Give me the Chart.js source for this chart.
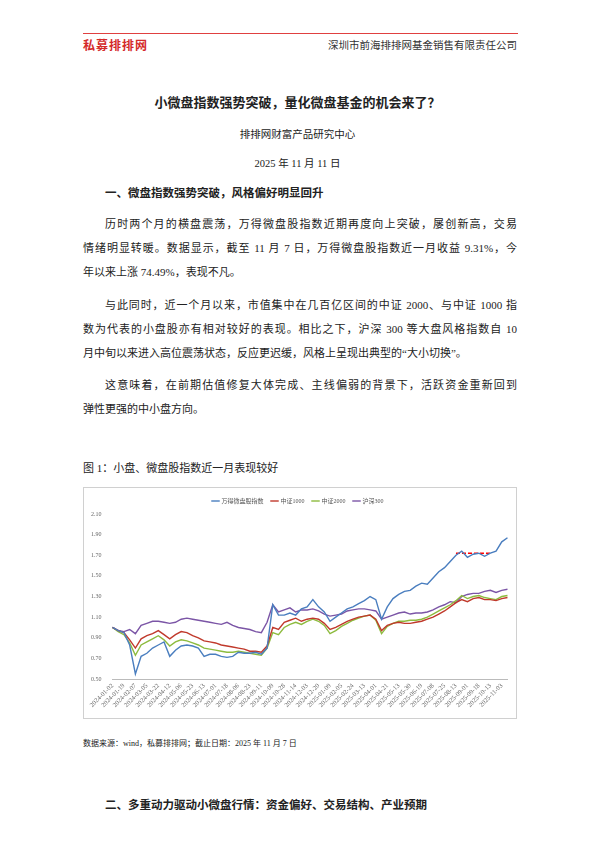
<!DOCTYPE html>
<html lang="zh">
<head>
<meta charset="UTF-8">
<title>小微盘指数强势突破</title>
<script src="https://cdn.jsdelivr.net/npm/chart.js"></script>
<style>
    body { margin: 0; width: 595px; height: 842px; background: #fff; position: relative;
           font-family: "Liberation Serif", "Noto Sans CJK SC", serif; color: #222; }
    .abs { position: absolute; white-space: nowrap; }
    .hr { position: absolute; left: 83px; top: 33px; width: 435px; height: 1px; background: #e04040; }
    .logo { left: 83px; top: 36px; font-size: 12px; font-weight: bold; color: #d42a2a; font-family: "Noto Sans CJK SC"; letter-spacing: 1px; }
    .company { right: 78px; top: 37px; font-size: 10.5px; font-family: "Noto Sans CJK SC"; color: #333; }
    .title { left: 0; width: 595px; text-align: center; top: 92px; font-size: 13px; font-weight: bold; }
    .center { left: 0; width: 595px; text-align: center; font-size: 10.5px; }
    .h { left: 105px; font-size: 11.5px; font-weight: bold; }
    .line { position: absolute; left: 83px; width: 434px; font-size: 11px; text-align: justify; text-align-last: justify; white-space: nowrap; }
    .ind { left: 105px; width: 412px; }
    .last { text-align-last: left; }
    #box { position: absolute; left: 83px; top: 487px; width: 434px; height: 232px; border: 1px solid #d0d0d0; box-sizing: border-box; }
</style>
</head>
<body>
<div class="hr"></div>
<div class="abs logo">私募排排网</div>
<div class="abs company">深圳市前海排排网基金销售有限责任公司</div>
<div class="abs title">小微盘指数强势突破，量化微盘基金的机会来了？</div>
<div class="abs center" style="top:126px">排排网财富产品研究中心</div>
<div class="abs center" style="top:155px">2025 年 11 月 11 日</div>
<div class="abs h" style="top:184px">一、微盘指数强势突破，风格偏好明显回升</div>

<div class="line ind" style="top:215px">历时两个月的横盘震荡，万得微盘股指数近期再度向上突破，屡创新高，交易</div>
<div class="line" style="top:239px">情绪明显转暖。数据显示，截至 11 月 7 日，万得微盘股指数近一月收益 9.31%，今</div>
<div class="line last" style="top:263px">年以来上涨 74.49%，表现不凡。</div>
<div class="line ind" style="top:296px">与此同时，近一个月以来，市值集中在几百亿区间的中证 2000、与中证 1000 指</div>
<div class="line" style="top:320px">数为代表的小盘股亦有相对较好的表现。相比之下，沪深 300 等大盘风格指数自 10</div>
<div class="line last" style="top:344px">月中旬以来进入高位震荡状态，反应更迟缓，风格上呈现出典型的“大小切换”。</div>
<div class="line ind" style="top:376px">这意味着，在前期估值修复大体完成、主线偏弱的背景下，活跃资金重新回到</div>
<div class="line last" style="top:400px">弹性更强的中小盘方向。</div>

<div class="abs" style="left:83px; top:459px; font-size:11px">图 1：小盘、微盘股指数近一月表现较好</div>
<div id="box"><canvas id="c"></canvas></div>
<div class="abs" style="left:83px; top:737px; font-size:8px">数据来源：wind，私募排排网；截止日期：2025 年 11 月 7 日</div>
<div class="abs h" style="top:796px">二、多重动力驱动小微盘行情：资金偏好、交易结构、产业预期</div>

<script>
// tick dates (every other category carries a label)
var tickDates = ['2024-01-02','2024-01-19','2024-02-07','2024-03-05','2024-03-22','2024-04-12','2024-05-06',
    '2024-05-23','2024-06-13','2024-07-01','2024-07-18','2024-08-06','2024-08-23','2024-09-11','2024-10-09',
    '2024-10-28','2024-11-14','2024-12-03','2024-12-20','2025-01-09','2025-02-05','2025-02-24','2025-03-13',
    '2025-04-01','2025-04-21','2025-05-13','2025-05-30','2025-06-19','2025-07-08','2025-07-25','2025-08-13',
    '2025-09-01','2025-09-18','2025-10-13','2025-11-03'];

var wind = [1.00,0.97, 0.95,0.83, 0.55,0.72, 0.75,0.80, 0.83,0.86, 0.72,0.78, 0.82,0.83, 0.82,0.80,
    0.72,0.74, 0.74,0.72, 0.71,0.72, 0.76,0.75, 0.75,0.76, 0.74,0.80, 1.22,1.12, 1.12,1.14, 1.12,1.18,
    1.20,1.27, 1.20,1.15, 1.06,1.10, 1.14,1.18, 1.20,1.23, 1.26,1.30, 1.27,1.08, 1.20,1.28, 1.32,1.35,
    1.36,1.40, 1.43,1.42, 1.48,1.54, 1.58,1.64, 1.70,1.74, 1.68,1.71, 1.72,1.69, 1.72,1.74, 1.83,1.87];
var zz1000 = [1.00,0.97, 0.95,0.88, 0.80,0.89, 0.92,0.94, 0.97,0.93, 0.89,0.93, 0.96,0.95, 0.92,0.90,
    0.87,0.86, 0.85,0.83, 0.82,0.81, 0.80,0.79, 0.77,0.77, 0.76,0.82, 1.00,0.98, 1.05,1.07, 1.09,1.06,
    1.08,1.09, 1.08,1.04, 0.98,1.00, 1.03,1.06, 1.08,1.10, 1.11,1.12, 1.08,0.97, 1.02,1.04, 1.05,1.04,
    1.04,1.05, 1.06,1.08, 1.10,1.13, 1.16,1.20, 1.24,1.27, 1.25,1.28, 1.29,1.27, 1.27,1.26, 1.28,1.29];
var zz2000 = [1.00,0.96, 0.93,0.85, 0.73,0.83, 0.86,0.89, 0.92,0.88, 0.82,0.86, 0.88,0.87, 0.85,0.83,
    0.80,0.79, 0.78,0.77, 0.76,0.76, 0.77,0.76, 0.75,0.74, 0.73,0.80, 0.95,0.93, 1.00,1.03, 1.05,1.03,
    1.06,1.08, 1.06,1.02, 0.94,0.97, 1.01,1.04, 1.07,1.09, 1.11,1.12, 1.07,0.94, 1.01,1.04, 1.06,1.06,
    1.07,1.07, 1.08,1.10, 1.13,1.16, 1.19,1.22, 1.26,1.31, 1.28,1.30, 1.31,1.29, 1.28,1.27, 1.30,1.31];
var hs300 = [1.00,0.97, 0.96,0.98, 0.94,1.02, 1.04,1.06, 1.06,1.05, 1.04,1.05, 1.08,1.09, 1.08,1.07,
    1.06,1.05, 1.04,1.03, 1.05,1.02, 1.00,0.99, 0.98,0.96, 0.95,1.05, 1.22,1.15, 1.17,1.19, 1.15,1.17,
    1.17,1.18, 1.16,1.13, 1.11,1.12, 1.13,1.16, 1.17,1.18, 1.18,1.17, 1.16,1.08, 1.10,1.12, 1.14,1.15,
    1.13,1.14, 1.14,1.15, 1.17,1.20, 1.22,1.25, 1.24,1.30, 1.32,1.33, 1.33,1.35, 1.36,1.34, 1.36,1.37];

var plateauLevel = 1.72, plateauFrom = 60, plateauTo = 66;

var labels = [];
tickDates.forEach(function (d) {
    labels.push(d);
    labels.push('');
});
var plateau = labels.map(function (_, i) { return i >= plateauFrom && i <= plateauTo ? plateauLevel : null; });

var serif = '"Liberation Serif", "Noto Sans CJK SC", serif';
function line(label, data, color) {
    return { label: label, data: data, borderColor: color, backgroundColor: color, borderWidth: 1.4,
             pointRadius: 0, tension: 0, fill: false };
}

new Chart(document.getElementById('c'), {
    type: 'line',
    data: {
        labels: labels,
        datasets: [
            line('万得微盘股指数', wind, '#4a7ebf'),
            line('中证1000', zz1000, '#c0392b'),
            line('中证2000', zz2000, '#8dbb3e'),
            line('沪深300', hs300, '#7b55a6'),
            { label: 'plateau', data: plateau, borderColor: '#ff0000', borderWidth: 1.4, borderDash: [4, 2],
              pointRadius: 0, fill: false }
        ]
    },
    options: {
        responsive: true,
        maintainAspectRatio: false,
        animation: false,
        layout: { padding: { left: 4, right: 8, top: 2, bottom: 6 } },
        plugins: {
            tooltip: { enabled: false },
            legend: {
                position: 'top',
                labels: {
                    filter: function (item) { return item.text !== 'plateau'; },
                    usePointStyle: true, pointStyle: 'line', boxWidth: 12, padding: 8,
                    font: { size: 6, family: serif }, color: '#555'
                }
            }
        },
        scales: {
            x: {
                grid: { display: false, drawTicks: false },
                border: { color: '#bbb' },
                ticks: { autoSkip: false, maxRotation: 45, minRotation: 45, font: { size: 6.5, family: serif },
                         color: '#666', padding: 3 }
            },
            y: {
                min: 0.5, max: 2.1,
                grid: { display: false },
                border: { display: false },
                ticks: { stepSize: 0.2, font: { size: 6, family: serif }, color: '#666',
                         callback: function (v) { return v.toFixed(2); } }
            }
        }
    }
});
</script>
</body>
</html>
